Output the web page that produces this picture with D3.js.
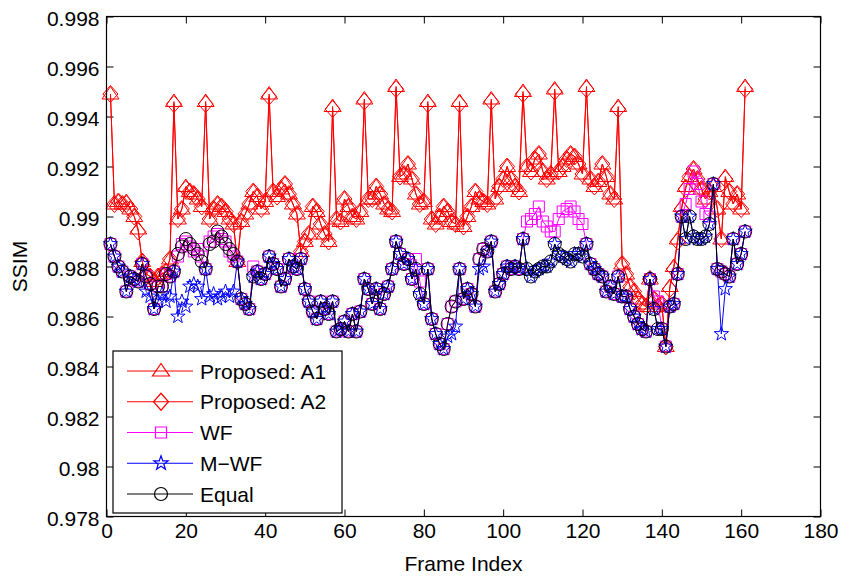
<!DOCTYPE html>
<html>
<head>
<meta charset="utf-8">
<script src="https://cdn.jsdelivr.net/npm/d3@7"></script>
<style>
  html, body { margin: 0; padding: 0; background: #fff; }
  svg { display: block; }
  text { font-family: "Liberation Sans", Arial, Helvetica, sans-serif; }
</style>
</head>
<body>
<svg id="chart" width="843" height="576"></svg>
<script>
// ---------- data ----------
const xTicks = [0, 20, 40, 60, 80, 100, 120, 140, 160, 180];
const xTickLabels = ["0", "20", "40", "60", "80", "100", "120", "140", "160", "180"];
const yTicks = [0.978, 0.980, 0.982, 0.984, 0.986, 0.988, 0.990, 0.992, 0.994, 0.996, 0.998];
const yTickLabels = ["0.978", "0.98", "0.982", "0.984", "0.986", "0.988", "0.99", "0.992", "0.994", "0.996", "0.998"];
const seriesNames = ["Proposed: A1", "Proposed: A2", "WF", "M\u2212WF", "Equal"];
const xLabel = "Frame Index";
const yLabel = "SSIM";

const proposedA1 = [
0.9949,0.9905,0.9906,0.9905,0.9906,0.9903,0.9900,0.9895,0.9882,0.9877,
0.9876,0.9874,0.9876,0.9877,0.9878,0.9883,0.9946,0.9899,0.9903,0.9912,
0.9910,0.9909,0.9907,0.9904,0.9946,0.9899,0.9903,0.9905,0.9904,0.9902,
0.9899,0.9897,0.9882,0.9898,0.9901,0.9905,0.9910,0.9908,0.9903,0.9906,
0.9949,0.9910,0.9908,0.9911,0.9913,0.9909,0.9905,0.9901,0.9886,0.9890,
0.9893,0.9904,0.9902,0.9897,0.9893,0.9890,0.9944,0.9899,0.9898,0.9907,
0.9904,0.9900,0.9899,0.9902,0.9947,0.9907,0.9907,0.9912,0.9909,0.9905,
0.9903,0.9902,0.9952,0.9916,0.9917,0.9921,0.9915,0.9909,0.9905,0.9906,
0.9946,0.9899,0.9897,0.9900,0.9904,0.9902,0.9898,0.9897,0.9946,0.9896,
0.9900,0.9904,0.9910,0.9907,0.9906,0.9905,0.9947,0.9907,0.9912,0.9915,
0.9920,0.9915,0.9912,0.9910,0.9950,0.9920,0.9918,0.9923,0.9925,0.9918,
0.9915,0.9917,0.9951,0.9918,0.9920,0.9923,0.9925,0.9924,0.9921,0.9917,
0.9952,0.9915,0.9912,0.9914,0.9921,0.9916,0.9909,0.9907,0.9944,0.9881,
0.9877,0.9872,0.9870,0.9867,0.9865,0.9864,0.9875,0.9867,0.9864,0.9865,
0.9848,0.9872,0.9880,0.9891,0.9904,0.9912,0.9916,0.9919,0.9915,0.9911,
0.9907,0.9910,0.9912,0.9903,0.9891,0.9916,0.9910,0.9905,0.9909,0.9903,
0.9952];

const proposedA2 = [
0.9949,0.9905,0.9906,0.9905,0.9905,0.9903,0.9900,0.9894,0.9882,0.9877,
0.9876,0.9874,0.9876,0.9877,0.9878,0.9883,0.9945,0.9899,0.9903,0.9911,
0.9910,0.9909,0.9907,0.9904,0.9945,0.9899,0.9903,0.9905,0.9904,0.9902,
0.9899,0.9897,0.9882,0.9898,0.9901,0.9905,0.9910,0.9908,0.9903,0.9906,
0.9948,0.9910,0.9908,0.9911,0.9913,0.9909,0.9905,0.9901,0.9886,0.9890,
0.9893,0.9904,0.9902,0.9897,0.9893,0.9890,0.9943,0.9899,0.9898,0.9907,
0.9904,0.9900,0.9899,0.9902,0.9946,0.9907,0.9907,0.9912,0.9909,0.9905,
0.9903,0.9902,0.9951,0.9916,0.9917,0.9921,0.9915,0.9909,0.9905,0.9906,
0.9945,0.9899,0.9897,0.9900,0.9904,0.9902,0.9898,0.9897,0.9945,0.9896,
0.9900,0.9904,0.9910,0.9907,0.9906,0.9905,0.9946,0.9907,0.9912,0.9915,
0.9920,0.9915,0.9912,0.9910,0.9949,0.9920,0.9918,0.9923,0.9925,0.9918,
0.9915,0.9917,0.9950,0.9918,0.9920,0.9923,0.9925,0.9924,0.9921,0.9917,
0.9951,0.9915,0.9912,0.9914,0.9921,0.9916,0.9909,0.9907,0.9943,0.9881,
0.9877,0.9872,0.9870,0.9867,0.9865,0.9864,0.9875,0.9867,0.9864,0.9865,
0.9848,0.9871,0.9879,0.9890,0.9903,0.9911,0.9916,0.9919,0.9915,0.9911,
0.9907,0.9910,0.9912,0.9903,0.9891,0.9915,0.9910,0.9905,0.9909,0.9903,
0.9951];

const wf = [
0.9889,0.9884,0.9880,0.9878,0.9870,0.9876,0.9875,0.9874,0.9881,0.9876,
0.9873,0.9863,0.9872,0.9872,0.9877,0.9876,0.9878,0.9884,0.9889,0.9890,
0.9888,0.9886,0.9887,0.9884,0.9879,0.9890,0.9892,0.9893,0.9891,0.9890,
0.9886,0.9884,0.9882,0.9867,0.9865,0.9863,0.9880,0.9878,0.9875,0.9877,
0.9884,0.9881,0.9879,0.9872,0.9875,0.9883,0.9880,0.9879,0.9883,0.9871,
0.9866,0.9862,0.9859,0.9866,0.9863,0.9861,0.9866,0.9854,0.9855,0.9858,
0.9854,0.9861,0.9854,0.9862,0.9875,0.9871,0.9865,0.9871,0.9863,0.9869,
0.9872,0.9879,0.9890,0.9885,0.9881,0.9883,0.9875,0.9883,0.9874,0.9865,
0.9879,0.9859,0.9853,0.9849,0.9847,0.9857,0.9864,0.9866,0.9879,0.9867,
0.9871,0.9869,0.9864,0.9883,0.9887,0.9886,0.9890,0.9870,0.9873,0.9877,
0.9880,0.9879,0.9880,0.9879,0.9891,0.9898,0.9899,0.9901,0.9904,0.9898,
0.9896,0.9894,0.9894,0.9899,0.9902,0.9903,0.9904,0.9902,0.9899,0.9897,
0.9889,0.9881,0.9879,0.9877,0.9876,0.9870,0.9872,0.9869,0.9876,0.9868,
0.9868,0.9863,0.9860,0.9857,0.9855,0.9854,0.9875,0.9868,0.9866,0.9855,
0.9848,0.9864,0.9865,0.9877,0.9900,0.9905,0.9911,0.9918,0.9913,0.9906,
0.9901,0.9900,0.9913,0.9879,0.9878,0.9877,0.9876,0.9891,0.9881,0.9885,
0.9894];

const mwf = [
0.9889,0.9884,0.9880,0.9878,0.9870,0.9876,0.9875,0.9874,0.9881,0.9870,
0.9868,0.9863,0.9866,0.9869,0.9866,0.9868,0.9878,0.9860,0.9866,0.9864,
0.9872,0.9873,0.9872,0.9867,0.9879,0.9868,0.9869,0.9867,0.9868,0.9870,
0.9868,0.9870,0.9882,0.9867,0.9865,0.9863,0.9876,0.9878,0.9875,0.9877,
0.9884,0.9881,0.9879,0.9872,0.9875,0.9883,0.9880,0.9879,0.9883,0.9871,
0.9866,0.9862,0.9859,0.9866,0.9863,0.9861,0.9866,0.9854,0.9855,0.9858,
0.9854,0.9861,0.9854,0.9862,0.9875,0.9871,0.9865,0.9871,0.9863,0.9869,
0.9872,0.9879,0.9890,0.9885,0.9881,0.9883,0.9875,0.9879,0.9869,0.9865,
0.9879,0.9859,0.9853,0.9849,0.9847,0.9852,0.9853,0.9856,0.9879,0.9867,
0.9871,0.9869,0.9864,0.9879,0.9880,0.9886,0.9890,0.9870,0.9873,0.9877,
0.9880,0.9879,0.9880,0.9879,0.9891,0.9879,0.9876,0.9878,0.9879,0.9880,
0.9880,0.9882,0.9889,0.9885,0.9884,0.9883,0.9882,0.9885,0.9885,0.9884,
0.9889,0.9881,0.9879,0.9877,0.9876,0.9870,0.9872,0.9869,0.9876,0.9868,
0.9868,0.9863,0.9860,0.9857,0.9855,0.9854,0.9875,0.9863,0.9855,0.9855,
0.9848,0.9864,0.9865,0.9877,0.9900,0.9891,0.9900,0.9892,0.9891,0.9891,
0.9892,0.9897,0.9913,0.9879,0.9853,0.9871,0.9876,0.9891,0.9881,0.9885,
0.9894];

const equal = [
0.9889,0.9884,0.9880,0.9878,0.9870,0.9876,0.9875,0.9874,0.9881,0.9876,
0.9873,0.9863,0.9872,0.9872,0.9877,0.9876,0.9878,0.9885,0.9888,0.9891,
0.9889,0.9887,0.9885,0.9882,0.9879,0.9889,0.9890,0.9894,0.9892,0.9889,
0.9887,0.9885,0.9882,0.9867,0.9865,0.9863,0.9876,0.9878,0.9875,0.9877,
0.9884,0.9881,0.9879,0.9872,0.9875,0.9883,0.9880,0.9879,0.9883,0.9871,
0.9866,0.9862,0.9859,0.9866,0.9863,0.9861,0.9866,0.9854,0.9855,0.9858,
0.9854,0.9861,0.9854,0.9862,0.9875,0.9871,0.9865,0.9871,0.9863,0.9869,
0.9872,0.9879,0.9890,0.9885,0.9881,0.9883,0.9875,0.9879,0.9869,0.9865,
0.9879,0.9859,0.9853,0.9849,0.9847,0.9857,0.9864,0.9866,0.9879,0.9867,
0.9871,0.9869,0.9864,0.9883,0.9887,0.9886,0.9890,0.9870,0.9873,0.9877,
0.9880,0.9879,0.9880,0.9879,0.9891,0.9879,0.9876,0.9878,0.9879,0.9880,
0.9880,0.9882,0.9889,0.9885,0.9884,0.9883,0.9882,0.9885,0.9885,0.9884,
0.9889,0.9881,0.9879,0.9877,0.9876,0.9870,0.9872,0.9869,0.9876,0.9868,
0.9868,0.9863,0.9860,0.9857,0.9855,0.9854,0.9875,0.9863,0.9855,0.9855,
0.9848,0.9864,0.9865,0.9877,0.9900,0.9891,0.9900,0.9892,0.9891,0.9891,
0.9892,0.9897,0.9913,0.9879,0.9878,0.9877,0.9876,0.9891,0.9881,0.9885,
0.9894];

// ---------- layout ----------
const W = 843, H = 576;
const plot = { left: 106.5, right: 820.5, top: 16.5, bottom: 516.5 };
const FONT = 21;

const svg = d3.select("#chart");
const x = d3.scaleLinear().domain([0, 180]).range([plot.left, plot.right]);
const y = d3.scaleLinear().domain([0.978, 0.998]).range([plot.bottom, plot.top]);

// marker path generators (unfilled outlines, MATLAB-like)
function markerPath(type) {
  switch (type) {
    case "triangle": return "M0,-7.5L8.5,5L-8.5,5Z";
    case "diamond":  return "M0,-8.5L7.5,0L0,8.5L-7.5,0Z";
    case "square":   return "M-5.5,-5.5L5.5,-5.5L5.5,5.5L-5.5,5.5Z";
    case "circle":   return "M6.5,0A6.5,6.5 0 1,1 -6.5,0A6.5,6.5 0 1,1 6.5,0Z";
    case "star": {
      let p = "";
      for (let i = 0; i < 10; i++) {
        const r = i % 2 === 0 ? 7.5 : 3.0;
        const a = -Math.PI / 2 + i * Math.PI / 5;
        p += (i === 0 ? "M" : "L") + (r * Math.cos(a)).toFixed(2) + "," + (r * Math.sin(a)).toFixed(2);
      }
      return p + "Z";
    }
  }
}

const series = [
  { name: seriesNames[0], values: proposedA1, color: "#ff0000", marker: "triangle" },
  { name: seriesNames[1], values: proposedA2, color: "#ff0000", marker: "diamond" },
  { name: seriesNames[2], values: wf,         color: "#ff00ff", marker: "square" },
  { name: seriesNames[3], values: mwf,        color: "#0000ff", marker: "star" },
  { name: seriesNames[4], values: equal,      color: "#000000", marker: "circle" }
];

// ---------- axes (MATLAB box style, inward ticks) ----------
const tickLen = 7;
const gx = svg.append("g").attr("transform", `translate(0,${plot.bottom})`)
  .call(d3.axisBottom(x).tickValues(xTicks).tickFormat((d, i) => xTickLabels[i])
        .tickSizeInner(-tickLen).tickSizeOuter(0).tickPadding(6));
const gxt = svg.append("g").attr("transform", `translate(0,${plot.top})`)
  .call(d3.axisTop(x).tickValues(xTicks).tickFormat("")
        .tickSizeInner(-tickLen).tickSizeOuter(0));
const gy = svg.append("g").attr("transform", `translate(${plot.left},0)`)
  .call(d3.axisLeft(y).tickValues(yTicks).tickFormat((d, i) => yTickLabels[i])
        .tickSizeInner(-tickLen).tickSizeOuter(0).tickPadding(7));
const gyr = svg.append("g").attr("transform", `translate(${plot.right},0)`)
  .call(d3.axisRight(y).tickValues(yTicks).tickFormat("")
        .tickSizeInner(-tickLen).tickSizeOuter(0));

[gx, gxt, gy, gyr].forEach(g => {
  g.select(".domain").remove();
  g.selectAll(".tick line").attr("stroke", "#000").attr("stroke-width", 1);
  g.selectAll(".tick text").attr("fill", "#000").style("font-size", FONT + "px")
    .style("font-family", '"Liberation Sans", Arial, sans-serif');
});
gx.selectAll(".tick text").attr("dy", "0.75em");
gy.selectAll(".tick text").attr("dy", "0.42em");

// ---------- data lines & markers ----------
const frames = d3.range(1, 162);
const line = d3.line().x((d, i) => x(frames[i])).y(d => y(d));

series.forEach(s => {
  const g = svg.append("g");
  g.append("path").datum(s.values)
    .attr("d", line).attr("fill", "none")
    .attr("stroke", s.color).attr("stroke-width", 1).attr("stroke-linejoin", "round");
  g.selectAll("path.mk").data(s.values).enter().append("path")
    .attr("class", "mk")
    .attr("d", markerPath(s.marker))
    .attr("transform", (d, i) => `translate(${x(frames[i])},${y(d)})`)
    .attr("fill", "none").attr("stroke", s.color).attr("stroke-width", 1);
});

// box
svg.append("rect")
  .attr("x", plot.left).attr("y", plot.top)
  .attr("width", plot.right - plot.left).attr("height", plot.bottom - plot.top)
  .attr("fill", "none").attr("stroke", "#000").attr("stroke-width", 1.2);

// axis labels
svg.append("text").attr("x", (plot.left + plot.right) / 2).attr("y", 571)
  .attr("text-anchor", "middle").style("font-size", FONT + "px").text(xLabel);
svg.append("text").attr("transform", `translate(27,${(plot.top + plot.bottom) / 2}) rotate(-90)`)
  .attr("text-anchor", "middle").style("font-size", FONT + "px").text(yLabel);

// ---------- legend ----------
const leg = { x: 113, y: 351, w: 229, h: 162 };
svg.append("rect").attr("x", leg.x).attr("y", leg.y).attr("width", leg.w).attr("height", leg.h)
  .attr("fill", "#fff").attr("stroke", "#000").attr("stroke-width", 1.2);
const rowY = d3.scaleLinear().domain([0, 4]).range([371, 494]);
series.forEach((s, i) => {
  const cy = rowY(i);
  svg.append("line").attr("x1", 127).attr("x2", 193).attr("y1", cy).attr("y2", cy)
    .attr("stroke", s.color).attr("stroke-width", 1);
  svg.append("path").attr("d", markerPath(s.marker))
    .attr("transform", `translate(161,${cy})`)
    .attr("fill", "none").attr("stroke", s.color).attr("stroke-width", 1.2);
  svg.append("text").attr("x", 200).attr("y", cy).attr("dy", "0.36em")
    .style("font-size", FONT + "px").text(s.name);
});
</script>
</body>
</html>
